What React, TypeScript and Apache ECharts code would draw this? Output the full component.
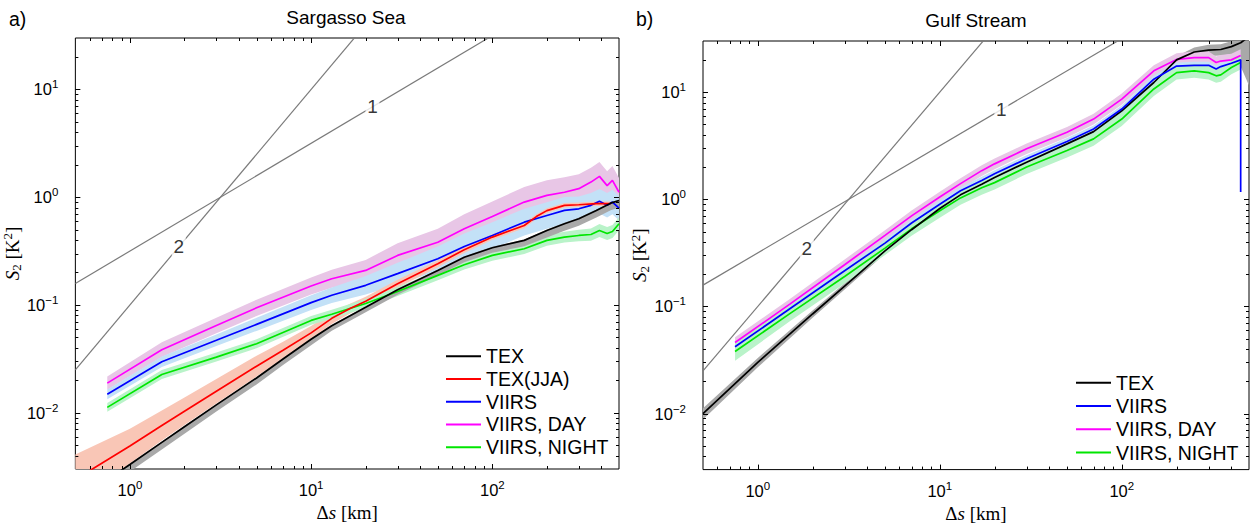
import React, { useEffect, useRef } from 'react';
import * as echarts from 'echarts';

// ---------- Panel a) Sargasso Sea ----------
const sgViirsX = [0.75, 1.5, 3, 5, 10, 13, 20, 30, 50, 70, 100, 150, 200, 250, 300, 350, 390, 430, 460, 500];
const sgDay = [0.0188, 0.0384, 0.0645, 0.094, 0.15, 0.175, 0.209, 0.288, 0.382, 0.509, 0.662, 0.9, 1.04, 1.11, 1.2, 1.38, 1.56, 1.28, 1.43, 1.11];
const sgDaySpread = [1.15, 1.17, 1.18, 1.19, 1.2, 1.21, 1.25, 1.3, 1.33, 1.36, 1.38, 1.38, 1.38, 1.38, 1.36, 1.36, 1.36, 1.36, 1.36, 1.36];
const sgViirs = [0.0148, 0.0297, 0.047, 0.066, 0.105, 0.123, 0.152, 0.195, 0.268, 0.349, 0.441, 0.586, 0.676, 0.753, 0.78, 0.84, 0.918, 0.84, 0.9, 0.79];
const sgViirsSpread = [1.11, 1.12, 1.13, 1.15, 1.17, 1.18, 1.22, 1.26, 1.3, 1.32, 1.33, 1.33, 1.33, 1.33, 1.3, 1.3, 1.3, 1.3, 1.3, 1.3];
const sgNight = [0.0112, 0.0226, 0.0328, 0.0436, 0.0718, 0.082, 0.103, 0.133, 0.188, 0.236, 0.288, 0.332, 0.397, 0.426, 0.441, 0.45, 0.49, 0.46, 0.48, 0.567];
const sgNightSpread = [1.1, 1.1, 1.1, 1.1, 1.1, 1.1, 1.1, 1.1, 1.11, 1.11, 1.12, 1.12, 1.12, 1.12, 1.13, 1.14, 1.15, 1.15, 1.15, 1.15];

const sgTexX = [0.5, 1, 1.5, 2, 3, 5, 7, 10, 13, 17, 20, 30, 50, 70, 100, 150, 200, 250, 300, 375, 450, 500];
const sgTex = [0.0015, 0.0033, 0.0053, 0.0074, 0.0118, 0.021, 0.0315, 0.048, 0.064, 0.082, 0.095, 0.138, 0.209, 0.277, 0.339, 0.397, 0.49, 0.567, 0.63, 0.753, 0.88, 0.93];
const sgTexLo = [0.86, 0.86, 0.86, 0.86, 0.87, 0.87, 0.88, 0.88, 0.9, 0.9, 0.9, 0.9, 0.9, 0.9, 0.9, 0.88, 0.86, 0.86, 0.86, 0.86, 0.86, 0.86];
const sgTexHi = [1.02, 1.02, 1.02, 1.02, 1.02, 1.02, 1.02, 1.02, 1.02, 1.02, 1.02, 1.02, 1.02, 1.02, 1.02, 1.02, 1.02, 1.02, 1.02, 1.02, 1.02, 1.02];

const sgJjaX = [0.5, 1, 1.5, 2, 3, 5, 7, 10, 13, 16.5, 20, 30, 50, 70, 100, 150, 175, 200, 250, 300, 375, 450];
const sgJja = [0.0024, 0.0049, 0.0076, 0.0103, 0.0158, 0.027, 0.038, 0.055, 0.075, 0.093, 0.108, 0.157, 0.241, 0.325, 0.426, 0.546, 0.66, 0.75, 0.84, 0.85, 0.87, 0.87];
const sgJjaSpread = [1.7, 1.45, 1.38, 1.34, 1.3, 1.25, 1.2, 1.16, 1.13, 1.11, 1.1, 1.09, 1.08, 1.07, 1.06, 1.06, 1.05, 1.05, 1.05, 1.05, 1.05, 1.05];

// ---------- Panel b) Gulf Stream ----------
const gsViirsX = [0.75, 1.5, 3, 5, 7, 10, 13, 17, 20, 30, 50, 70, 100, 150, 200, 250, 300, 330, 350, 400, 450];
const gsDay = [0.046, 0.105, 0.245, 0.46, 0.7, 1.05, 1.4, 1.85, 2.14, 2.96, 4.23, 5.6, 8.6, 15.8, 20.2, 21, 21, 18.9, 19.5, 20, 22];
const gsDaySpread = [1.12, 1.12, 1.12, 1.12, 1.12, 1.12, 1.12, 1.12, 1.12, 1.12, 1.12, 1.12, 1.13, 1.13, 1.14, 1.14, 1.14, 1.14, 1.14, 1.14, 1.14];
const gsViirsLineX = [0.75, 1.5, 3, 5, 7, 10, 13, 17, 20, 30, 50, 70, 100, 150, 200, 250, 300, 330, 350, 400, 450, 450];
const gsViirs = [0.042, 0.095, 0.215, 0.39, 0.6, 0.9, 1.2, 1.5, 1.73, 2.39, 3.46, 4.53, 6.95, 13.2, 17.5, 17.8, 17.8, 16.4, 17.3, 18.6, 20, 1.17];
const gsViirsSpread = [1.08, 1.08, 1.08, 1.08, 1.08, 1.08, 1.08, 1.08, 1.08, 1.08, 1.08, 1.08, 1.08, 1.08, 1.08, 1.08, 1.08, 1.08, 1.08, 1.08, 1.08];
const gsNight = [0.038, 0.0856, 0.19, 0.35, 0.53, 0.78, 1.03, 1.28, 1.43, 2.0, 2.85, 3.66, 5.61, 10.7, 15.2, 15.8, 15.2, 14.2, 14.5, 17, 18.9];
const gsNightSpread = [1.22, 1.18, 1.16, 1.16, 1.16, 1.16, 1.16, 1.16, 1.16, 1.16, 1.16, 1.16, 1.16, 1.16, 1.16, 1.16, 1.16, 1.16, 1.16, 1.16, 1.16];

const gsTexX = [0.5, 1, 2, 3, 5, 7, 10, 13, 17, 20, 30, 50, 70, 100, 150, 200, 250, 300, 350, 400, 450, 500];
const gsTex = [0.01, 0.03, 0.085, 0.155, 0.33, 0.52, 0.82, 1.1, 1.38, 1.6, 2.22, 3.29, 4.28, 6.7, 12.3, 20, 23.7, 24.7, 25, 26.6, 28.9, 33];
const gsTexLo = [0.88, 0.9, 0.92, 0.93, 0.94, 0.95, 0.95, 0.95, 0.95, 0.95, 0.95, 0.95, 0.95, 0.95, 0.94, 0.92, 0.9, 0.88, 0.88, 0.85, 0.6, 0.35];
const gsTexHi = [1.12, 1.1, 1.08, 1.06, 1.05, 1.05, 1.05, 1.05, 1.05, 1.05, 1.05, 1.05, 1.05, 1.05, 1.06, 1.08, 1.1, 1.12, 1.12, 1.12, 1.15, 1.15];

// ---------- Reference power-law lines (slope 1 and slope 2) ----------
const slope1Line = [[0.5, 0.158], [100, 31.6]];
const slope2Line = [[0.5, 0.025], [20, 40]];
const slope1Label = [21.8, 6.89];
const slope2Label = [1.86, 0.346];

// ---------- Axes / ticks ----------
const xRange = [0.5, 500];
const yRange = [0.003, 30];
const xMajorTicks = [1, 10, 100];
const xMinorTicks = [0.6, 0.7, 0.8, 0.9, 2, 3, 4, 5, 6, 7, 8, 9, 20, 30, 40, 50, 60, 70, 80, 90, 200, 300, 400];
const yMajorTicks = [0.01, 0.1, 1, 10];
const yMinorTicks = [0.004, 0.005, 0.006, 0.007, 0.008, 0.009, 0.02, 0.03, 0.04, 0.05, 0.06, 0.07, 0.08, 0.09,
  0.2, 0.3, 0.4, 0.5, 0.6, 0.7, 0.8, 0.9, 2, 3, 4, 5, 6, 7, 8, 9, 20];

const titles = ['Sargasso Sea', 'Gulf Stream'];
const panelLabels = ['a)', 'b)'];
const legendA = ['TEX', 'TEX(JJA)', 'VIIRS', 'VIIRS, DAY', 'VIIRS, NIGHT'];
const legendB = ['TEX', 'VIIRS', 'VIIRS, DAY', 'VIIRS, NIGHT'];

const SANS = '"Liberation Sans", Arial, Helvetica, sans-serif';
const SERIF = '"Liberation Serif", "DejaVu Serif", serif';

const COL = {
  tex: '#000000', jja: '#ff0000', viirs: '#0000ff', day: '#ff00ff', night: '#00e600', ref: '#7a7a7a',
};
const BAND = {
  tex: '#a9a9a9', jja: '#f9c6b6', viirs: '#c3e1f7', day: '#e8c6e6', night: '#b9f3c9',
};

const GRIDS = [
  { left: 73, top: 38, width: 546, height: 431 },
  { left: 703, top: 41, width: 546, height: 431 },
];

function lineSeries(name: string, xs: number[], ys: number[], color: string, g: number) {
  return {
    type: 'line', name, xAxisIndex: g, yAxisIndex: g,
    data: xs.map((x, i) => [x, ys[i]]),
    symbol: 'none', showSymbol: false, clip: true, z: 5,
    lineStyle: { color, width: 1.7 }, itemStyle: { color },
    emphasis: { disabled: true },
  };
}

function bandSeries(name: string, xs: number[], ys: number[], lo: number[], hi: number[], color: string, g: number, z: number) {
  const mid = Math.floor(xs.length / 2);
  return {
    type: 'custom', name, xAxisIndex: g, yAxisIndex: g, clip: true, silent: true, z,
    data: [[xs[mid], ys[mid]]],
    renderItem: (params: any, api: any) => {
      const up = xs.map((x, i) => api.coord([x, ys[i] * hi[i]]));
      const dn = xs.map((x, i) => api.coord([x, ys[i] * lo[i]])).reverse();
      return { type: 'polygon', shape: { points: up.concat(dn) }, style: { fill: color } };
    },
  };
}

function symBand(name: string, xs: number[], ys: number[], spread: number[], color: string, g: number, z: number) {
  return bandSeries(name, xs, ys, spread.map((s) => 1 / s), spread, color, g, z);
}

function tickSeries(g: number) {
  const data: number[][] = [];
  xMajorTicks.forEach((v) => data.push([v, 1, 0, 5]));
  xMinorTicks.forEach((v) => data.push([v, 1, 0, 3]));
  yMajorTicks.forEach((v) => data.push([1, v, 1, 5]));
  yMinorTicks.forEach((v) => data.push([1, v, 1, 3]));
  return {
    type: 'custom', xAxisIndex: g, yAxisIndex: g, silent: true, z: 10, clip: false,
    data,
    renderItem: (params: any, api: any) => {
      const cs = params.coordSys;
      const len = api.value(3);
      const st = { stroke: '#000', lineWidth: 1 };
      if (api.value(2) === 0) {
        const p = api.coord([api.value(0), 1]);
        const x = Math.round(p[0]) + 0.5;
        return {
          type: 'group', children: [
            { type: 'line', shape: { x1: x, y1: cs.y + cs.height, x2: x, y2: cs.y + cs.height - len }, style: st },
            { type: 'line', shape: { x1: x, y1: cs.y, x2: x, y2: cs.y + len }, style: st },
          ],
        };
      }
      const p = api.coord([1, api.value(1)]);
      const y = Math.round(p[1]) + 0.5;
      return {
        type: 'group', children: [
          { type: 'line', shape: { x1: cs.x, y1: y, x2: cs.x + len, y2: y }, style: st },
          { type: 'line', shape: { x1: cs.x + cs.width, y1: y, x2: cs.x + cs.width - len, y2: y }, style: st },
        ],
      };
    },
  };
}

function refSeries(g: number) {
  const lineStyle = { color: COL.ref, width: 1.2 };
  const lbl = (txt: string) => ({
    show: true, position: 'inside', formatter: txt, fontSize: 19, color: '#000', fontFamily: SANS,
  });
  return [
    { type: 'line', xAxisIndex: g, yAxisIndex: g, data: slope1Line, symbol: 'none', clip: true, z: 2, lineStyle, silent: true },
    { type: 'line', xAxisIndex: g, yAxisIndex: g, data: slope2Line, symbol: 'none', clip: true, z: 2, lineStyle, silent: true },
    { type: 'scatter', xAxisIndex: g, yAxisIndex: g, data: [slope1Label], symbol: 'rect', symbolSize: [14, 20], itemStyle: { color: '#fff' }, label: lbl('1'), z: 3, silent: true },
    { type: 'scatter', xAxisIndex: g, yAxisIndex: g, data: [slope2Label], symbol: 'rect', symbolSize: [14, 20], itemStyle: { color: '#fff' }, label: lbl('2'), z: 3, silent: true },
  ];
}

const pow10Label = (v: number) => {
  const l = Math.log10(v);
  const n = Math.round(l);
  if (Math.abs(l - n) > 1e-6) return '';
  const e = n < 0 ? '\u2212' + Math.abs(n) : String(n);
  return '{b|10}{e|' + e + '}';
};
const labelRich = {
  b: { fontSize: 16.5, fontFamily: SANS, color: '#000', lineHeight: 22 },
  e: { fontSize: 11.5, fontFamily: SANS, color: '#000', verticalAlign: 'top', lineHeight: 11 },
};

function xAxis(g: number) {
  return {
    type: 'log', gridIndex: g, logBase: 10, min: xRange[0], max: xRange[1],
    axisLine: { show: false }, axisTick: { show: false }, splitLine: { show: false },
    axisLabel: { formatter: pow10Label, rich: labelRich, margin: 10, showMinLabel: false, showMaxLabel: false },
    name: '{d|Δ}{i|s}{n| [km]}', nameLocation: 'middle', nameGap: 32,
    nameTextStyle: {
      rich: {
        d: { fontSize: 19, fontFamily: SERIF, color: '#000' },
        i: { fontSize: 19, fontFamily: SERIF, fontStyle: 'italic', color: '#000' },
        n: { fontSize: 19, fontFamily: SERIF, color: '#000' },
      },
    },
  };
}
function yAxis(g: number) {
  return {
    type: 'log', gridIndex: g, logBase: 10, min: yRange[0], max: yRange[1],
    axisLine: { show: false }, axisTick: { show: false }, splitLine: { show: false },
    axisLabel: { formatter: pow10Label, rich: labelRich, margin: 17, showMinLabel: false, showMaxLabel: false },
    name: '{i|S}{s|2}{n| [K}{p|2}{n|]}', nameLocation: 'middle', nameGap: 44,
    nameTextStyle: {
      rich: {
        i: { fontSize: 19, fontFamily: SERIF, fontStyle: 'italic', color: '#000', lineHeight: 22 },
        s: { fontSize: 13, fontFamily: SERIF, color: '#000', verticalAlign: 'bottom', lineHeight: 13 },
        n: { fontSize: 19, fontFamily: SERIF, color: '#000', lineHeight: 22 },
        p: { fontSize: 13, fontFamily: SERIF, color: '#000', verticalAlign: 'top', lineHeight: 13 },
      },
    },
  };
}

function legend(names: string[], left: number, top: number, lh: number) {
  return {
    data: names, orient: 'vertical', left, top, itemWidth: 35, itemHeight: 2, icon: 'rect', itemGap: 0,
    selectedMode: false, padding: 0,
    textStyle: { fontSize: 19.5, fontFamily: SANS, color: '#000', lineHeight: lh },
  };
}

export default function App() {
  const ref = useRef<HTMLDivElement>(null);
  useEffect(() => {
    document.body.style.margin = '0';
    const chart = echarts.init(ref.current!, null, { renderer: 'svg' });
    const series: any[] = [];
    // Panel a
    series.push(...refSeries(0));
    series.push(symBand('band-day-a', sgViirsX, sgDay, sgDaySpread, BAND.day, 0, 1));
    series.push(symBand('band-viirs-a', sgViirsX, sgViirs, sgViirsSpread, BAND.viirs, 0, 1));
    series.push(symBand('band-jja-a', sgJjaX, sgJja, sgJjaSpread, BAND.jja, 0, 1));
    series.push(symBand('band-night-a', sgViirsX, sgNight, sgNightSpread, BAND.night, 0, 1));
    series.push(bandSeries('band-tex-a', sgTexX, sgTex, sgTexLo, sgTexHi, BAND.tex, 0, 1));
    series.push(lineSeries('VIIRS, DAY', sgViirsX, sgDay, COL.day, 0));
    series.push(lineSeries('VIIRS', sgViirsX, sgViirs, COL.viirs, 0));
    series.push(lineSeries('VIIRS, NIGHT', sgViirsX, sgNight, COL.night, 0));
    series.push(lineSeries('TEX(JJA)', sgJjaX, sgJja, COL.jja, 0));
    series.push(lineSeries('TEX', sgTexX, sgTex, COL.tex, 0));
    series.push(tickSeries(0));
    // Panel b
    series.push(...refSeries(1));
    series.push(bandSeries('band-tex-b', gsTexX, gsTex, gsTexLo, gsTexHi, BAND.tex, 1, 1));
    series.push(symBand('band-day-b', gsViirsX, gsDay, gsDaySpread, BAND.day, 1, 1));
    series.push(symBand('band-viirs-b', gsViirsX, gsViirs, gsViirsSpread, BAND.viirs, 1, 1));
    series.push(symBand('band-night-b', gsViirsX, gsNight, gsNightSpread, BAND.night, 1, 1));
    series.push(lineSeries('VIIRS, DAY', gsViirsX, gsDay, COL.day, 1));
    series.push(lineSeries('VIIRS, NIGHT', gsViirsX, gsNight, COL.night, 1));
    series.push(lineSeries('TEX', gsTexX, gsTex, COL.tex, 1));
    series.push(lineSeries('VIIRS', gsViirsLineX, gsViirs, COL.viirs, 1));
    series.push(tickSeries(1));

    chart.setOption({
      animation: false,
      grid: GRIDS.map((g) => ({ ...g, show: true, borderColor: '#000', borderWidth: 1, backgroundColor: 'transparent' })),
      xAxis: [xAxis(0), xAxis(1)],
      yAxis: [yAxis(0), yAxis(1)],
      legend: [legend(legendA, 446, 345, 22.7), legend(legendB, 1076, 371, 23.3)],
      graphic: [
        { type: 'text', x: 346, y: 17, style: { text: titles[0], fontSize: 19, fontFamily: SANS, fill: '#000', textAlign: 'center', textVerticalAlign: 'middle' } },
        { type: 'text', x: 976, y: 20, style: { text: titles[1], fontSize: 19, fontFamily: SANS, fill: '#000', textAlign: 'center', textVerticalAlign: 'middle' } },
        { type: 'text', x: 9, y: 19, style: { text: panelLabels[0], fontSize: 19.5, fontFamily: SANS, fill: '#000', textAlign: 'left', textVerticalAlign: 'middle' } },
        { type: 'text', x: 636, y: 19, style: { text: panelLabels[1], fontSize: 19.5, fontFamily: SANS, fill: '#000', textAlign: 'left', textVerticalAlign: 'middle' } },
      ],
      series,
    });
    return () => chart.dispose();
  }, []);
  return <div ref={ref} style={{ width: 1251, height: 528 }} />;
}
